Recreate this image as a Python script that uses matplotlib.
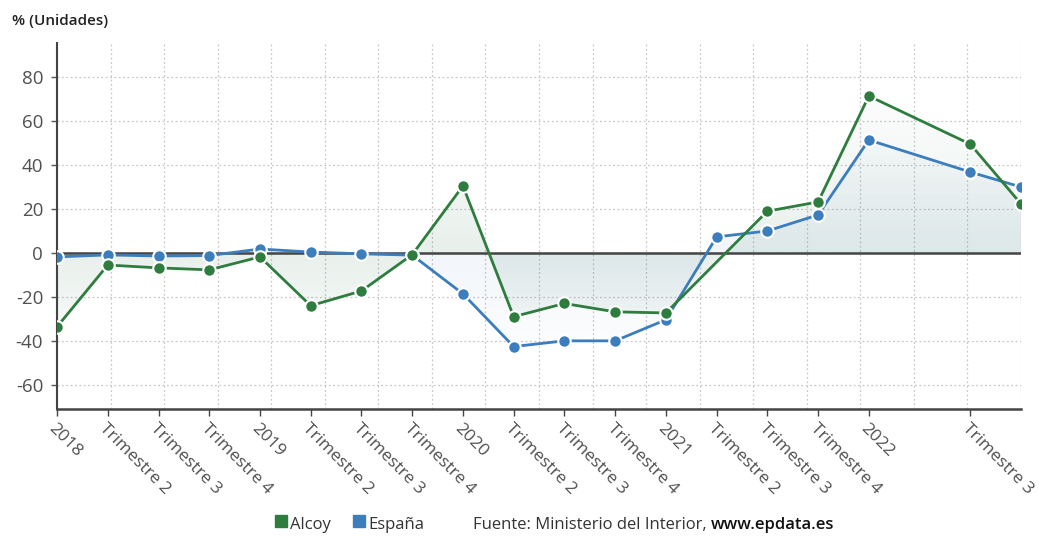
import numpy as np
import matplotlib as mpl
mpl.use("Agg")
from matplotlib import pyplot as plt
from matplotlib.path import Path

plt.rcParams['font.family'] = ['Open Sans', 'DejaVu Sans']

# datos: variación trimestral (%), posición = índice de trimestre desde 2018 T1
pos_alcoy = [0, 1, 2, 3, 4, 5, 6, 7, 8, 9, 10, 11, 12, 14, 15, 16, 18, 19]
alcoy = [-33.6, -5.5, -6.8, -7.7, -1.8, -24.0, -17.3, -0.8, 30.5, -29.0, -23.0,
         -26.8, -27.3, 19.0, 23.2, 71.4, 49.5, 22.3]
pos_espana = [0, 1, 2, 3, 4, 5, 6, 7, 8, 9, 10, 11, 12, 13, 14, 15, 16, 18, 19]
espana = [-1.8, -0.9, -1.4, -1.2, 1.8, 0.4, -0.4, -1.0, -18.6, -42.6, -40.0,
          -40.0, -30.4, 7.3, 10.0, 17.3, 51.4, 36.8, 30.0]
tick_pos = list(range(17)) + [18]
tick_labels = ['2018', 'Trimestre 2', 'Trimestre 3', 'Trimestre 4',
               '2019', 'Trimestre 2', 'Trimestre 3', 'Trimestre 4',
               '2020', 'Trimestre 2', 'Trimestre 3', 'Trimestre 4',
               '2021', 'Trimestre 2', 'Trimestre 3', 'Trimestre 4',
               '2022', 'Trimestre 3']
yticks = [-60, -40, -20, 0, 20, 40, 60, 80]

verde = '#2e7d3e'
azul = '#3b7dbd'
ymin, ymax = -71, 95.5
xmin, xmax = 0, 19

f = plt.figure(figsize=(10.39, 5.38), dpi=100)
ax = f.add_axes([0.0549, 0.2398, 0.9278, 0.6802])
ax.set_xlim(xmin, xmax)
ax.set_ylim(ymin, ymax)

# rejilla punteada
for gx in np.linspace(xmin, xmax, 19):
    ax.axvline(gx, color='#c8c8c8', lw=0.9, ls=(0, (1.5, 2)), zorder=0)
for gy in yticks:
    ax.axhline(gy, color='#c8c8c8', lw=0.9, ls=(0, (1.5, 2)), zorder=0)


# relleno degradado entre la serie y el cero
def relleno(xs, ys, color, amax):
    verts = [(xs[0], 0)] + list(zip(xs, ys)) + [(xs[-1], 0), (xs[0], 0)]
    path = Path(verts, closed=True)
    yy = np.linspace(ymax, ymin, 400)
    a = np.where(yy >= 0, 1 - yy / 80.0, 1 - (-yy) / 55.0)
    a = np.clip(a, 0.04, 1) * amax
    rgba = np.zeros((400, 2, 4))
    rgba[..., :3] = mpl.colors.to_rgb(color)
    rgba[..., 3] = a[:, None]
    im = ax.imshow(rgba, extent=[xmin, xmax, ymin, ymax], aspect='auto',
                   interpolation='bilinear', zorder=1)
    im.set_clip_path(path, transform=ax.transData)


relleno(pos_alcoy, alcoy, '#4d8a6a', 0.13)
relleno(pos_espana, espana, '#5b86c4', 0.08)

ax.axhline(0, color='#444444', lw=1.8, zorder=2)

ax.plot(pos_alcoy, alcoy, color=verde, lw=2, marker='o', markersize=9,
        markerfacecolor=verde, markeredgecolor='white', markeredgewidth=1.5, zorder=4)
ax.plot(pos_espana, espana, color=azul, lw=2, marker='o', markersize=9,
        markerfacecolor=azul, markeredgecolor='white', markeredgewidth=1.5, zorder=3)

# ejes
for s in ['top', 'right']:
    ax.spines[s].set_visible(False)
ax.spines['bottom'].set_color('#444444')
ax.spines['bottom'].set_linewidth(1.8)
ax.spines['left'].set_color('#444444')
ax.spines['left'].set_linewidth(1.5)
ax.spines['bottom'].set_zorder(5)

ax.set_yticks(yticks)
ax.set_yticklabels([str(v) for v in yticks], fontsize=13.5, color='#505050')
ax.tick_params(axis='y', length=4, width=1, color='#555555', pad=6)
ax.set_xticks(tick_pos)
ax.set_xticklabels(tick_labels, fontsize=12.5, color='#505050', rotation=-45,
                   ha='left', va='top', rotation_mode='anchor')
ax.tick_params(axis='x', length=5, width=1, color='#444444', pad=3)

f.text(0.0115, 0.953, '% (Unidades)', fontsize=11, fontweight='semibold',
       color='#222222')

# leyenda y fuente
ly = 0.016
f.patches.append(mpl.patches.Rectangle((0.2645, ly + 0.004), 0.0115, 0.022,
                                       color=verde, transform=f.transFigure))
f.text(0.2795, ly, 'Alcoy', fontsize=12, color='#333333')
f.patches.append(mpl.patches.Rectangle((0.3395, ly + 0.004), 0.0115, 0.022,
                                       color=azul, transform=f.transFigure))
f.text(0.3545, ly, 'España', fontsize=12, color='#333333')
f.text(0.455, ly, 'Fuente: Ministerio del Interior,', fontsize=12, color='#333333')
f.text(0.6845, ly, 'www.epdata.es', fontsize=12, fontweight='semibold',
       color='#111111')

f.savefig('out.png', dpi=100)
